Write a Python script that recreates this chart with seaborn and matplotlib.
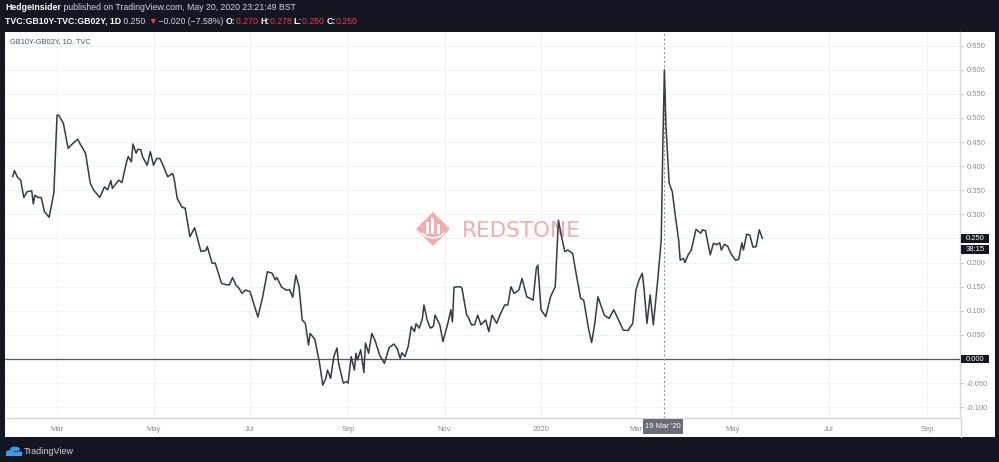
import numpy as np
import pandas as pd
import matplotlib
matplotlib.use("Agg")
import matplotlib.pyplot as plt
import matplotlib.transforms as mtransforms
from matplotlib.patches import Rectangle, Polygon, Circle
from matplotlib.lines import Line2D
import seaborn as sns

# GB10Y - GB02Y spread, daily
start = pd.Timestamp("2019-03-01")
day_offset = [
    -28, -27, -25, -23, -21, -19, -16, -15, -14, -12, -10, -8, -5, -2, 0, 1, 4, 7, 9, 13,
    15, 18, 21, 23, 27, 30, 32, 34, 35, 39, 41, 44, 45, 47, 48, 50, 51, 53, 54, 57,
    59, 61, 63, 65, 67, 70, 73, 74, 76, 79, 81, 84, 87, 91, 94, 95, 98, 100, 104, 107,
    109, 111, 113, 115, 117, 119, 122, 124, 127, 130, 133, 136, 138, 139, 142, 145, 147, 149, 151, 153,
    155, 157, 159, 160, 162, 163, 166, 168, 170, 171, 173, 175, 177, 178, 181, 183, 184, 186, 188, 189,
    190, 192, 194, 195, 197, 199, 201, 204, 207, 210, 213, 215, 217, 218, 220, 222, 224, 226, 227, 229,
    231, 232, 234, 236, 238, 239, 242, 244, 247, 249, 250, 251, 255, 256, 259, 260, 262, 264, 266, 268,
    271, 273, 275, 278, 280, 283, 285, 287, 289, 292, 294, 297, 299, 301, 303, 304, 306, 309, 312, 315,
    317, 319, 321, 323, 326, 328, 331, 333, 336, 338, 340, 342, 346, 349, 352, 354, 358, 361, 364, 366,
    368, 370, 371, 373, 375, 377, 380, 382, 383, 384, 385, 387, 389, 391, 393, 394, 396, 397, 399, 401,
    404, 407, 408, 410, 413, 415, 417, 419, 420, 422, 424, 426, 429, 431, 433, 434, 436, 438, 440, 442,
    444, 446,
]
spread = [
    0.378, 0.391, 0.377, 0.371, 0.335, 0.347, 0.349, 0.322, 0.340, 0.335, 0.335, 0.306, 0.294, 0.345, 0.506, 0.506, 0.489, 0.437, 0.444, 0.456,
    0.444, 0.427, 0.365, 0.351, 0.335, 0.357, 0.351, 0.370, 0.354, 0.371, 0.366, 0.409, 0.420, 0.409, 0.446, 0.427, 0.435, 0.434, 0.420, 0.402,
    0.430, 0.402, 0.416, 0.416, 0.402, 0.378, 0.385, 0.375, 0.333, 0.315, 0.313, 0.254, 0.272, 0.223, 0.225, 0.233, 0.199, 0.199, 0.157, 0.154,
    0.154, 0.169, 0.154, 0.147, 0.136, 0.143, 0.140, 0.119, 0.087, 0.129, 0.181, 0.178, 0.164, 0.169, 0.149, 0.143, 0.144, 0.128, 0.174, 0.150,
    0.081, 0.074, 0.029, 0.053, 0.045, 0.041, -0.009, -0.054, -0.040, -0.023, -0.040, 0.005, 0.023, -0.009, -0.050, -0.047, -0.050, 0.005, -0.023, 0.012,
    -0.002, 0.019, -0.028, 0.033, 0.012, 0.053, 0.039, 0.008, -0.009, 0.024, 0.031, 0.022, 0.001, 0.013, 0.005, 0.026, 0.067, 0.057, 0.073, 0.064,
    0.084, 0.112, 0.081, 0.064, 0.068, 0.091, 0.071, 0.036, 0.073, 0.102, 0.077, 0.149, 0.150, 0.147, 0.091, 0.087, 0.071, 0.071, 0.091, 0.071,
    0.081, 0.057, 0.091, 0.074, 0.091, 0.112, 0.112, 0.150, 0.136, 0.143, 0.167, 0.129, 0.126, 0.122, 0.188, 0.195, 0.102, 0.088, 0.129, 0.150,
    0.288, 0.254, 0.223, 0.226, 0.219, 0.181, 0.126, 0.122, 0.064, 0.034, 0.074, 0.129, 0.091, 0.084, 0.102, 0.088, 0.060, 0.059, 0.074, 0.143,
    0.164, 0.178, 0.150, 0.074, 0.133, 0.071, 0.171, 0.247, 0.440, 0.600, 0.482, 0.365, 0.347, 0.295, 0.247, 0.205, 0.209, 0.200, 0.216, 0.226,
    0.269, 0.261, 0.268, 0.266, 0.216, 0.240, 0.237, 0.241, 0.226, 0.238, 0.234, 0.219, 0.205, 0.207, 0.241, 0.226, 0.259, 0.257, 0.232, 0.233,
    0.268, 0.250,
]

tick_dates = ["2019-03-01", "2019-05-01", "2019-07-01", "2019-09-01", "2019-11-01",
              "2020-01-01", "2020-03-01", "2020-05-01", "2020-07-01", "2020-09-01"]
tick_labels = ["Mar", "May", "Jul", "Sep", "Nov", "2020", "Mar", "May", "Jul", "Sep"]
y_ticks = [-0.10, -0.05, 0.00, 0.05, 0.10, 0.15, 0.20, 0.25, 0.30, 0.35, 0.40, 0.45, 0.50, 0.55, 0.60, 0.65]

last_value = 0.250
countdown = "38:15"
crosshair_date = pd.Timestamp("2020-03-19")
crosshair_label = "19 Mar '20"

df = pd.DataFrame({"date": start + pd.to_timedelta(day_offset, unit="D"), "spread": spread})

W, H = 999, 462
DARK = "#131722"
GRAY_TXT = "#8a8d96"
RED = "#f23645"
PINK = "#f3abab"


def fx(px):
    return px / W


def fy(py):
    return 1 - py / H


sns.set_theme(style="white")
plt.rcParams["font.family"] = ["Liberation Sans", "DejaVu Sans"]

fig = plt.figure(figsize=(W / 100, H / 100), dpi=100, facecolor=DARK)

# white chart panel (kept behind the axes)
fig.patches.append(Rectangle((fx(5), fy(437)), 990 / W, 405 / H, transform=fig.transFigure,
                             facecolor="white", edgecolor="none", zorder=-10))

ax = fig.add_axes([fx(5), fy(418), 955 / W, 386 / H])
ax.set_facecolor("white")

sns.lineplot(data=df, x="date", y="spread", ax=ax, color="#363a45", linewidth=1.1,
             estimator=None, zorder=4)

ax.set_xlim(start - pd.Timedelta(days=32.9), start + pd.Timedelta(days=570.9))
ax.set_ylim(-0.1224, 0.6784)

ax.set_xticks(pd.to_datetime(tick_dates))
ax.set_xticklabels(tick_labels)
ax.set_yticks(y_ticks)
ax.set_yticklabels([f"{v:.3f}" for v in y_ticks])
ax.yaxis.tick_right()
ax.set_xlabel("")
ax.set_ylabel("")

ax.grid(True, color="#f0f3fa", linewidth=0.8)
ax.set_axisbelow(True)
for s in ["top", "left"]:
    ax.spines[s].set_visible(False)
for s in ["right", "bottom"]:
    ax.spines[s].set_color("#d6d8de")
    ax.spines[s].set_linewidth(1.0)
ax.tick_params(axis="both", colors="#b2b5be", labelcolor=GRAY_TXT, labelsize=5.5,
               length=2, width=0.6, direction="out")
ax.tick_params(axis="x", pad=4)
ax.tick_params(axis="y", pad=3)

# zero line and crosshair
ax.axhline(0, color="#555a66", linewidth=0.9, zorder=3)
ax.axvline(crosshair_date, color="#9598a1", linewidth=0.8, linestyle=(0, (2, 2)), zorder=3)

# separator between price scale and the time axis strip
fig.lines.append(Line2D([fx(961), fx(961)], [fy(418), fy(437)], transform=fig.transFigure,
                        color="#d6d8de", linewidth=1.0))

# price scale labels
ytrans = mtransforms.blended_transform_factory(ax.transAxes, ax.transData)
px_h = (0.6784 + 0.1224) / 386


def price_box(val, text, dy_px=0):
    yc = val - dy_px * px_h
    ax.add_patch(Rectangle((1.001, yc - 4.2 * px_h), 0.029, 8.4 * px_h, transform=ytrans,
                           facecolor=DARK, edgecolor="none", clip_on=False, zorder=6))
    ax.text(1.0155, yc, text, transform=ytrans, ha="center", va="center", fontsize=5.5,
            color="white", clip_on=False, zorder=7)


price_box(last_value, f"{last_value:.3f}")
price_box(last_value, countdown, dy_px=11)
price_box(0.0, "0.000")

# crosshair date label on the time axis
xtrans = mtransforms.blended_transform_factory(ax.transData, ax.transAxes)
cx = matplotlib.dates.date2num(crosshair_date)
ax.add_patch(Rectangle((cx - 13.5, -0.041), 25.4, 0.039, transform=xtrans,
                       facecolor="#6a6d78", edgecolor="none", clip_on=False, zorder=6))
ax.text(cx - 0.8, -0.0215, crosshair_label, transform=xtrans, ha="center", va="center",
        fontsize=5.5, color="white", clip_on=False, zorder=7)

# legend text in the chart
ax.text((10 - 5) / 955, (418 - 42) / 386, "GB10Y-GB02Y, 1D, TVC", transform=ax.transAxes,
        ha="left", va="center", fontsize=5.3, color="#50535e", zorder=5)


# watermark
def axp(px, py):
    return ((px - 5) / 955, (418 - py) / 386)


cxw, cyw, r = 433, 229, 17
diamond = Polygon([axp(cxw, cyw - r), axp(cxw + r, cyw), axp(cxw, cyw + r), axp(cxw - r, cyw)],
                  closed=True, transform=ax.transAxes, facecolor=PINK, edgecolor="none",
                  zorder=1, clip_on=False)
ax.add_patch(diamond)
for bx, top in [(426, 222), (431, 218), (437, 224)]:
    x0, y0 = axp(bx, 234)
    x1, y1 = axp(bx + 3, top)
    ax.add_patch(Rectangle((x0, y0), x1 - x0, y1 - y0, transform=ax.transAxes,
                           facecolor="white", edgecolor="none", zorder=2))
arc_x = [axp(p, 0)[0] for p in (422, 427, 433, 439, 444)]
arc_y = [axp(0, p)[1] for p in (233, 237, 238, 237, 233)]
ax.plot(arc_x, arc_y, transform=ax.transAxes, color="white", linewidth=1.2, zorder=2)
ax.text(*axp(462, 231), "REDSTONE", transform=ax.transAxes, ha="left", va="center",
        fontsize=15.5, color=PINK, zorder=1, family="DejaVu Sans")

# header lines
renderer = fig.canvas.get_renderer()


def write_run(x_px, y_px, pieces, size=6.3):
    x = fx(x_px)
    for txt, color, weight in pieces:
        t = fig.text(x, fy(y_px), txt, color=color, fontsize=size, fontweight=weight,
                     ha="left", va="center")
        bb = t.get_window_extent(renderer)
        x = bb.x1 / fig.bbox.width


write_run(5, 8, [
    ("HedgeInsider", "white", "bold"),
    (" published on TradingView.com, May 20, 2020 23:21:49 BST", "#d1d4dc", "normal"),
])
write_run(5, 21, [
    ("TVC:GB10Y-TVC:GB02Y, 1D", "white", "bold"),
    (" 0.250 ", "#d1d4dc", "normal"),
    ("\u25bc", RED, "normal"),
    (" \u22120.020 (\u22127.58%) ", "#d1d4dc", "normal"),
    ("O:", "white", "bold"),
    ("0.270 ", RED, "normal"),
    ("H:", "white", "bold"),
    ("0.278 ", RED, "normal"),
    ("L:", "white", "bold"),
    ("0.250 ", RED, "normal"),
    ("C:", "white", "bold"),
    ("0.250", RED, "normal"),
])

# TradingView footer logo
for ccx, ccy, rr in [(10, 452, 4), (15, 449, 5), (19, 453, 3.5)]:
    fig.patches.append(Circle((fx(ccx), fy(ccy)), rr / W, transform=fig.transFigure,
                              facecolor="#3d9be9", edgecolor="none"))
fig.patches.append(Rectangle((fx(6), fy(456)), 16 / W, 4 / H, transform=fig.transFigure,
                             facecolor="#3d9be9", edgecolor="none"))
fig.text(fx(24), fy(451), "TradingView", color="#d1d4dc", fontsize=6.5, ha="left", va="center")

fig.savefig("out.png", dpi=100, facecolor=DARK)
